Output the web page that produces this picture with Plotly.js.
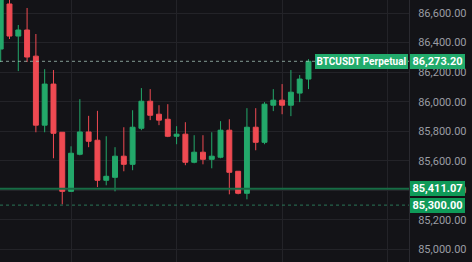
<!DOCTYPE html>
<html>
<head>
<meta charset="utf-8">
<script src="https://cdn.plot.ly/plotly-3.0.1.min.js"></script>
<style>
html,body{margin:0;padding:0;background:#131317;}
#chart{width:472px;height:262px;}
</style>
</head>
<body>
<div id="chart"></div>
<script>
// Candle index (time slots)
const candleIndex = [0,1,2,3,4,5,6,7,8,9,10,11,12,13,14,15,16,17,18,19,20,21,22,23,24,25,26,27,28,29,30,31,32,33,34,35];
const opens  = [86356,86661,86444,86485,86308,85841,86119,85793,85393,85644,85795,85739,85468,85488,85631,85576,85820,86003,85915,85881,85766,85780,85590,85658,85610,85624,85807,85529,85380,85827,85725,85976,86010,85976,86058,86153];
const highs  = [86720,86700,86519,86634,86458,86220,86214,85793,85698,86017,85904,85938,85766,85692,85827,85942,86092,86085,85976,85983,85834,85861,85773,85773,85793,85868,85881,85529,85956,85956,85997,86085,86119,86214,86180,86288];
const lows   = [86268,86424,86207,86268,85793,85793,85617,85305,85390,85637,85692,85422,85434,85393,85529,85536,85807,85875,85841,85760,85712,85570,85583,85576,85549,85617,85373,85373,85339,85671,85712,85936,85915,85902,85997,86085];
const closes = [86690,86444,86485,86302,85841,86119,85786,85393,85651,85795,85732,85468,85495,85631,85576,85827,86003,85908,85875,85766,85780,85590,85658,85610,85631,85807,85522,85380,85827,85725,85983,86010,85976,86064,86153,86273.2];

// Price axis ticks
const priceTicks = [85000,85200,85400,85600,85800,86000,86200,86400,86600];
const priceTickText = ["85,000.00","85,200.00","85,400.00","85,600.00","85,800.00","86,000.00","86,200.00","86,400.00","86,600.00"];
// Vertical grid positions (candle slots)
const timeGrid = [8,20,32,44];

// Marked levels
const symbolName = "BTCUSDT Perpetual";
const lastPrice = 86273.20;
const lastPriceText = "86,273.20";
const markLevel = 85411.07;
const markLevelText = "85,411.07";
const orderLevel = 85300.00;
const orderLevelText = "85,300.00";

const UP = '#23a86a';
const DOWN = '#ef4a52';
const BG = '#131317';
const GRID = '#232328';

const trace = {
  type: 'candlestick',
  x: candleIndex,
  open: opens, high: highs, low: lows, close: closes,
  increasing: {line: {color: UP, width: 1}, fillcolor: UP},
  decreasing: {line: {color: DOWN, width: 1}, fillcolor: DOWN},
  whiskerwidth: 0,
  hoverinfo: 'skip',
  showlegend: false
};

const lbl = (y, text, color, xanchor, xshift, w, fs) => ({
  xref: 'paper', yref: 'y', x: 1, y: y, xanchor: xanchor, yanchor: 'middle',
  xshift: xshift, text: text, showarrow: false,
  bgcolor: color, bordercolor: color, borderwidth: 0, borderpad: 1,
  width: w, height: 13,
  font: {family: 'Roboto, Liberation Sans, sans-serif', size: fs, color: '#ffffff', weight: 'bold'}
});

const layout = {
  width: 472, height: 262,
  margin: {l: 0, r: 63, t: 0, b: 0, pad: 0},
  paper_bgcolor: BG, plot_bgcolor: BG,
  showlegend: false,
  boxgap: 0.2,
  xaxis: {
    range: [-0.08, 46.43], rangeslider: {visible: false},
    tickvals: timeGrid, showticklabels: false, ticks: '',
    showgrid: true, gridcolor: GRID, gridwidth: 1, zeroline: false, showline: false, fixedrange: true
  },
  yaxis: {
    side: 'right', range: [84915, 86688],
    tickvals: priceTicks, ticktext: priceTickText,
    ticks: '', ticklabelstandoff: 6,
    showgrid: true, gridcolor: GRID, gridwidth: 1, zeroline: false,
    showline: true, linecolor: '#2a2a30', linewidth: 1,
    tickfont: {family: 'Roboto, Liberation Sans, sans-serif', size: 11, color: '#9a9ca3'},
    fixedrange: true
  },
  shapes: [
    {type: 'line', xref: 'paper', x0: 0, x1: 1, yref: 'y', y0: lastPrice, y1: lastPrice,
     line: {color: 'rgba(170,200,190,0.75)', width: 1, dash: 'dot'}},
    {type: 'line', xref: 'paper', x0: 0, x1: 1, yref: 'y', y0: markLevel, y1: markLevel,
     line: {color: '#176c45', width: 2}},
    {type: 'line', xref: 'paper', x0: 0, x1: 1, yref: 'y', y0: orderLevel, y1: orderLevel,
     line: {color: '#2a7658', width: 1, dash: 'dot'}}
  ],
  annotations: [
    lbl(lastPrice, symbolName, '#22ab6c', 'right', -1, 91, 10),
    lbl(lastPrice, lastPriceText, '#22ab6c', 'left', 1, 53, 11),
    lbl(markLevel, markLevelText, '#0f9a58', 'left', 1, 53, 11),
    lbl(orderLevel, orderLevelText, '#0f9a58', 'left', 1, 53, 11)
  ]
};

Plotly.newPlot('chart', [trace], layout, {staticPlot: true, displayModeBar: false});
</script>
</body>
</html>
